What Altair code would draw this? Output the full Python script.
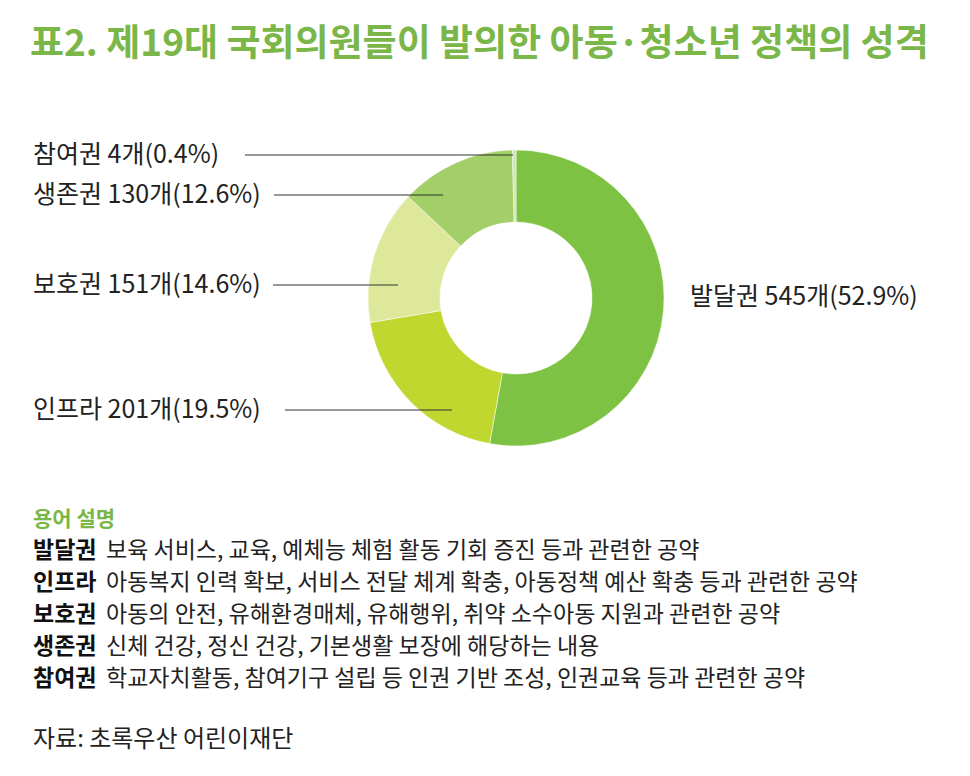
import altair as alt
import pandas as pd

# ---- data ----
categories = ["발달권", "인프라", "보호권", "생존권", "참여권"]
counts = [545, 201, 151, 130, 4]
percents = ["52.9", "19.5", "14.6", "12.6", "0.4"]
colors = ["#7dc242", "#c0d72f", "#dde89a", "#a2cf67", "#cfe6b4"]

terms = ["발달권", "인프라", "보호권", "생존권", "참여권"]
descriptions = [
    "보육 서비스, 교육, 예체능 체험 활동 기회 증진 등과 관련한 공약",
    "아동복지 인력 확보, 서비스 전달 체계 확충, 아동정책 예산 확충 등과 관련한 공약",
    "아동의 안전, 유해환경매체, 유해행위, 취약 소수아동 지원과 관련한 공약",
    "신체 건강, 정신 건강, 기본생활 보장에 해당하는 내용",
    "학교자치활동, 참여기구 설립 등 인권 기반 조성, 인권교육 등과 관련한 공약",
]

title_text = "표2. 제19대 국회의원들이 발의한 아동·청소년 정책의 성격"
glossary_title = "용어 설명"
source_text = "자료: 초록우산 어린이재단"

# ---- layout (positions only) ----
FONT = "Noto Sans CJK KR"
CX, CY = 516, 298
label_x = [690, 33, 33, 33, 33]
label_y = [297, 410, 285, 195, 155]
line_x1 = [None, 285, 273, 274, 245]
line_x2 = [None, 452, 398, 443, 513]

labels = [f"{c} {n}개({p}%)" for c, n, p in zip(categories, counts, percents)]

pie_df = pd.DataFrame({"cat": categories, "count": counts, "order": list(range(len(categories)))})
lab_df = pd.DataFrame({"label": labels, "x": label_x, "y": label_y})
lines_df = pd.DataFrame({
    "x1": [v for v in line_x1 if v is not None],
    "x2": [v for v in line_x2 if v is not None],
    "y": [y for y, v in zip(label_y, line_x1) if v is not None],
})

rows_y = [551, 583, 615, 647, 679]
gl_df = pd.DataFrame({"term": terms, "desc": descriptions, "y": rows_y})

W, H = 970, 776
xs = alt.Scale(domain=[0, W], range=[0, W])
ys = alt.Scale(domain=[0, H], range=[0, H])

donut = alt.Chart(pie_df).mark_arc(innerRadius=76, outerRadius=148, stroke="white", strokeWidth=0.5).encode(
    theta=alt.Theta("count:Q", stack=True),
    order=alt.Order("order:Q"),
    color=alt.Color("cat:N", scale=alt.Scale(domain=categories, range=colors), legend=None),
    x=alt.value(CX),
    y=alt.value(CY),
)

leaders = alt.Chart(lines_df).mark_rule(color="#333333", strokeWidth=1.2).encode(
    x=alt.X("x1:Q", scale=xs, axis=None),
    x2="x2:Q",
    y=alt.Y("y:Q", scale=ys, axis=None),
)

slice_labels = alt.Chart(lab_df).mark_text(
    font=FONT, fontSize=25, color="#222222", align="left", baseline="middle"
).encode(
    x=alt.X("x:Q", scale=xs, axis=None),
    y=alt.Y("y:Q", scale=ys, axis=None),
    text="label:N",
)

title = alt.Chart(pd.DataFrame({"t": [title_text]})).mark_text(
    font=FONT, fontSize=37, fontWeight="bold", color="#7ab648", align="left", baseline="middle"
).encode(x=alt.value(30), y=alt.value(45), text="t:N")

gl_title = alt.Chart(pd.DataFrame({"t": [glossary_title]})).mark_text(
    font=FONT, fontSize=21, fontWeight="bold", color="#7ab648", align="left", baseline="middle"
).encode(x=alt.value(33), y=alt.value(520), text="t:N")

gl_terms = alt.Chart(gl_df).mark_text(
    font=FONT, fontSize=23, fontWeight="bold", color="#111111", align="left", baseline="middle"
).encode(x=alt.value(33), y=alt.Y("y:Q", scale=ys, axis=None), text="term:N")

gl_desc = alt.Chart(gl_df).mark_text(
    font=FONT, fontSize=23, color="#222222", align="left", baseline="middle"
).encode(x=alt.value(106), y=alt.Y("y:Q", scale=ys, axis=None), text="desc:N")

source = alt.Chart(pd.DataFrame({"t": [source_text]})).mark_text(
    font=FONT, fontSize=24, color="#222222", align="left", baseline="middle"
).encode(x=alt.value(33), y=alt.value(740), text="t:N")

chart = alt.layer(
    donut, leaders, slice_labels, title, gl_title, gl_terms, gl_desc, source
).resolve_scale(color="independent").properties(
    width=W, height=H, padding=0, autosize=alt.AutoSizeParams(type="none"), background="white"
).configure_view(stroke=None)

chart.save("out.html", embed_options={"renderer": "svg", "actions": False})
